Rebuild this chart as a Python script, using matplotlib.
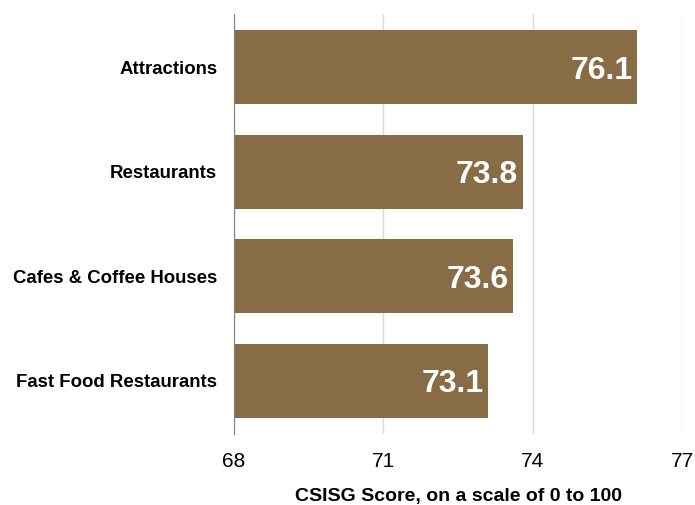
import matplotlib
matplotlib.use("Agg")
import matplotlib.pyplot as plt

categories = ["Attractions", "Restaurants", "Cafes & Coffee Houses", "Fast Food Restaurants"]
scores = [76.1, 73.8, 73.6, 73.1]
x_ticks = [68, 71, 74, 77]

bar_color = "#886c45"

plt.rcParams['font.family'] = ['Liberation Sans', 'DejaVu Sans']

fig = plt.figure(figsize=(6.95, 5.05), dpi=100)
ax = fig.add_axes([0.3367, 0.1406, 0.6446, 0.8317])

y = list(range(len(categories)))
ax.barh(y, [s - x_ticks[0] for s in scores], left=x_ticks[0], height=0.71,
        color=bar_color, zorder=3)

# value labels inside the bar ends
for yi, s in zip(y, scores):
    ax.text(s - 0.09, yi, f"{s:.1f}", ha="right", va="center_baseline",
            color="white", fontsize=23, fontweight="bold", zorder=4)

ax.set_xlim(x_ticks[0], x_ticks[-1])
ax.set_ylim(len(categories) - 0.49, -0.51)
ax.set_xticks(x_ticks)
ax.set_xticklabels([str(t) for t in x_ticks], fontsize=15)
ax.set_yticks(y)
ax.set_yticklabels(categories, fontsize=13.4, fontweight="bold")
ax.tick_params(axis="both", length=0)
ax.tick_params(axis="x", pad=13)
ax.tick_params(axis="y", pad=12)

ax.grid(axis="x", color="#d9d9d9", linewidth=1, zorder=0)
for side in ["top", "right", "bottom"]:
    ax.spines[side].set_visible(False)
ax.spines["left"].set_color("#808080")
ax.spines["left"].set_zorder(5)

ax.set_xlabel("CSISG Score, on a scale of 0 to 100", fontsize=14,
              fontweight="bold", labelpad=12)

fig.savefig("out.png", dpi=100)
